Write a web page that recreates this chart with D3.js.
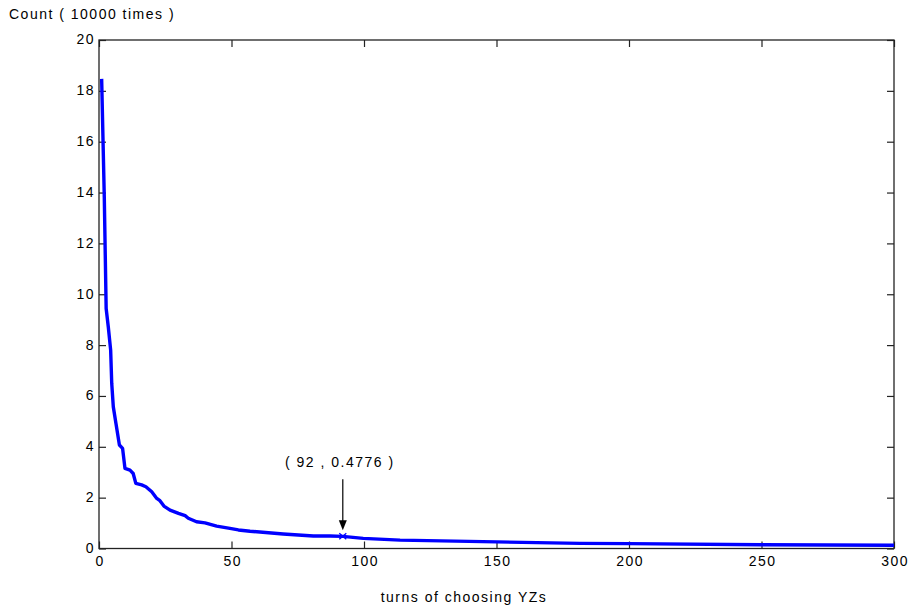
<!DOCTYPE html>
<html>
<head>
<meta charset="utf-8">
<script src="https://cdn.jsdelivr.net/npm/d3@7"></script>
<style>
  body { margin: 0; background: #fff; }
  text { font-family: "Liberation Sans", Arial, Helvetica, sans-serif; }
</style>
</head>
<body>
<svg id="chart" width="912" height="609"></svg>
<script>
// ---- data ----
const turns  = [1, 2, 2.7, 3.5, 4.4, 4.8, 5.4, 6.4, 7.7, 8.9, 9.8, 11.7, 12.9, 13.9, 16.1, 17.7, 19.9, 21.8, 23, 24.5, 26.8, 30, 32.5, 33.7, 36.8, 40, 44.4, 49.4, 52.6, 57, 69.5, 80.9, 87.2, 92, 99.7, 113.6, 150, 181.5, 200, 250, 300];
const counts = [18.47, 13.8, 9.44, 8.72, 7.8, 6.5, 5.57, 4.92, 4.07, 3.94, 3.15, 3.08, 2.95, 2.56, 2.5, 2.43, 2.23, 1.97, 1.88, 1.67, 1.51, 1.38, 1.29, 1.19, 1.05, 1.01, 0.88, 0.79, 0.73, 0.68, 0.57, 0.49, 0.49, 0.4776, 0.40, 0.33, 0.26, 0.2, 0.19, 0.15, 0.13];
const xTicks = [0, 50, 100, 150, 200, 250, 300];
const yTicks = [0, 2, 4, 6, 8, 10, 12, 14, 16, 18, 20];
const markPoint = [92, 0.4776];
const markLabel = "( 92 , 0.4776 )";
const xLabel = "turns of choosing YZs";
const yLabel = "Count ( 10000 times )";

// ---- layout ----
const svg = d3.select("#chart");
const L = 99, R = 894, T = 40, B = 548.5;
const x = d3.scaleLinear().domain([0, 300]).range([L, R]);
const y = d3.scaleLinear().domain([0, 20]).range([B, T]);
const tickLen = 7;
const axisColor = "#222";
const FS = 14, LS = "1.5px";

// box
svg.append("rect").attr("x", L).attr("y", T).attr("width", R - L).attr("height", B - T)
  .attr("fill", "none").attr("stroke", axisColor).attr("stroke-width", 1.3);

// axes (ticks inside, mirrored on top/right)
const gx = svg.append("g").attr("transform", `translate(0,${B})`)
  .call(d3.axisBottom(x).tickValues(xTicks).tickSizeInner(-tickLen).tickSizeOuter(0).tickPadding(7.5).tickFormat(d3.format("d")));
const gxTop = svg.append("g").attr("transform", `translate(0,${T})`)
  .call(d3.axisTop(x).tickValues(xTicks).tickSizeInner(-tickLen).tickSizeOuter(0).tickFormat(""));
const gy = svg.append("g").attr("transform", `translate(${L},0)`)
  .call(d3.axisLeft(y).tickValues(yTicks).tickSizeInner(-tickLen).tickSizeOuter(0).tickPadding(4).tickFormat(d3.format("d")));
const gyR = svg.append("g").attr("transform", `translate(${R},0)`)
  .call(d3.axisRight(y).tickValues(yTicks).tickSizeInner(-tickLen).tickSizeOuter(0).tickFormat(""));

[gx, gxTop, gy, gyR].forEach(g => {
  g.select(".domain").remove();
  g.selectAll(".tick line").attr("stroke", axisColor).attr("stroke-width", 1.2);
  g.selectAll("text").attr("font-size", FS).attr("fill", "#000").style("letter-spacing", LS)
    .attr("font-family", "'Liberation Sans', Arial, Helvetica, sans-serif");
});
gy.selectAll("text").attr("dy", "0.28em");
gx.selectAll("text").attr("dx", "0.05em");

// curve
const pts = turns.map((t, i) => [t, counts[i]]);
svg.append("path").datum(pts)
  .attr("d", d3.line().x(d => x(d[0])).y(d => y(d[1])))
  .attr("fill", "none").attr("stroke", "#0000ff").attr("stroke-width", 3.4)
  .attr("stroke-linejoin", "round");

// marker x
const mx = x(markPoint[0]), my = y(markPoint[1]);
svg.append("path")
  .attr("d", `M${mx-3.5},${my-3}L${mx+3.5},${my+3}M${mx-3.5},${my+3}L${mx+3.5},${my-3}`)
  .attr("stroke", "#0000ff").attr("stroke-width", 1.3);

// annotation arrow
svg.append("line").attr("x1", mx).attr("x2", mx).attr("y1", my - 57).attr("y2", my - 15)
  .attr("stroke", "#000").attr("stroke-width", 1.2);
svg.append("path")
  .attr("d", `M${mx-4},${my-16}L${mx+4},${my-16}L${mx},${my-6}Z`)
  .attr("fill", "#000");
svg.append("text").attr("x", mx - 3).attr("y", my - 69).attr("text-anchor", "middle")
  .attr("font-size", FS).style("letter-spacing", LS).text(markLabel);

// axis labels
svg.append("text").attr("x", 464).attr("y", 602).attr("text-anchor", "middle")
  .attr("font-size", FS).style("letter-spacing", LS).text(xLabel);
svg.append("text").attr("x", 9).attr("y", 18.5).attr("font-size", FS).style("letter-spacing", LS).text(yLabel);
</script>
</body>
</html>
